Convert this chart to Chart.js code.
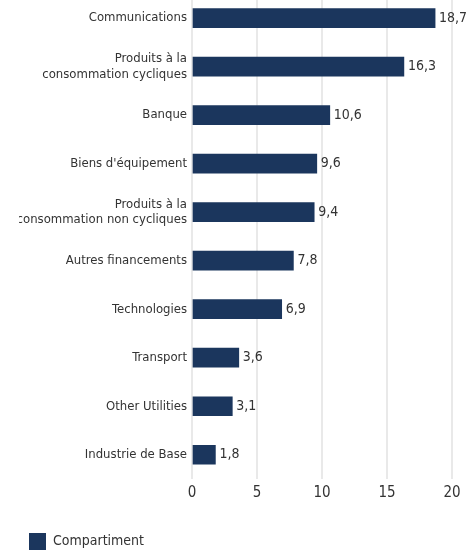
<!DOCTYPE html>
<html>
<head>
<meta charset="utf-8">
<script src="https://cdn.jsdelivr.net/npm/chart.js@4/dist/chart.umd.min.js"></script>
<style>
  html, body { margin: 0; padding: 0; background: #fff; overflow: hidden; }
  #wrap { position: relative; width: 471px; height: 579px; margin-top: -19px; }
</style>
</head>
<body>
<div id="wrap"><canvas id="c"></canvas></div>
<script>
// sector weights, in %
const sectors = [
  'Communications',
  ['Produits à la', 'consommation cycliques'],
  'Banque',
  "Biens d'équipement",
  ['Produits à la', 'consommation non cycliques'],
  'Autres financements',
  'Technologies',
  'Transport',
  'Other Utilities',
  'Industrie de Base',
];
const compartiment = [18.7, 16.3, 10.6, 9.6, 9.4, 7.8, 6.9, 3.6, 3.1, 1.8];
const xTicks = [0, 5, 10, 15, 20];

const FONT = "'DejaVu Sans Condensed', 'Liberation Sans Narrow', sans-serif";
const NAVY = '#1b365d';
const TEXT = '#333333';

// value labels at the end of each bar, french decimal comma
const barValues = {
  id: 'barValues',
  afterDatasetsDraw(chart) {
    const ctx = chart.ctx;
    const meta = chart.getDatasetMeta(0);
    ctx.save();
    ctx.font = '14px ' + FONT;
    ctx.fillStyle = TEXT;
    ctx.textBaseline = 'middle';
    ctx.textAlign = 'left';
    meta.data.forEach((bar, i) => {
      const txt = compartiment[i].toFixed(1).replace('.', ',');
      ctx.fillText(txt, bar.x + 4, bar.y);
    });
    ctx.restore();
  },
};

new Chart(document.getElementById('c'), {
  type: 'bar',
  data: {
    labels: sectors,
    datasets: [{
      label: 'Compartiment',
      data: compartiment,
      backgroundColor: NAVY,
      barThickness: 19,
    }],
  },
  options: {
    indexAxis: 'y',
    responsive: true,
    maintainAspectRatio: false,
    animation: false,
    layout: { padding: { left: 19, right: 19, top: 0, bottom: 0 } },
    scales: {
      x: {
        min: 0,
        max: 20,
        afterBuildTicks: s => { s.ticks = xTicks.map(v => ({ value: v })); },
        afterFit: s => { s.height = 44; },
        grid: { color: '#e9e9e9', lineWidth: 2, drawTicks: false },
        border: { display: false },
        ticks: { color: TEXT, font: { family: FONT, size: 15 }, padding: 5 },
      },
      y: {
        afterFit: s => { s.width = 173; },
        grid: { display: false, drawTicks: false },
        border: { display: false },
        ticks: { color: TEXT, font: { family: FONT, size: 13, lineHeight: 1.2 }, padding: 5 },
      },
    },
    plugins: {
      legend: {
        position: 'bottom',
        align: 'start',
        labels: {
          boxWidth: 17,
          boxHeight: 17,
          padding: 10,
          color: TEXT,
          font: { family: FONT, size: 14 },
        },
      },
      tooltip: { enabled: false },
    },
  },
  plugins: [barValues],
});
</script>
</body>
</html>
